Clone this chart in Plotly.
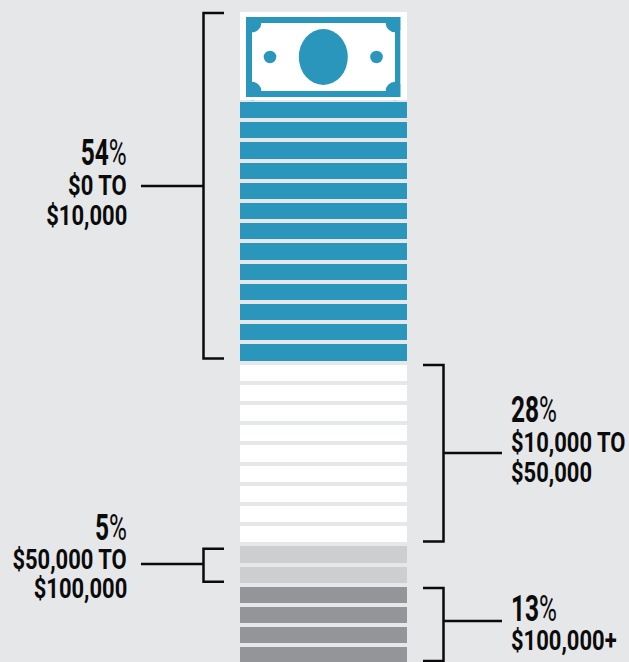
import plotly.graph_objects as go

# Income bands, from lowest to highest
shares = [54, 28, 5, 13]
band_labels = [["$0 TO", "$10,000"], ["$10,000 TO", "$50,000"], ["$50,000 TO", "$100,000"], ["$100,000+"]]
strip_counts = [13, 9, 2, 4]
strip_colors = ["#2a96bc", "#ffffff", "#cdcecf", "#939598"]

W, H = 629, 662
BG = "#e6e7e9"
INK = "#0b0b0b"
FONT = "Roboto"
PITCH = 20.2
STACK_LEFT, STACK_W = 240, 167


def py(p):
    # Convert a distance from the top of the page into strip units
    return -5.449 + p / PITCH


fig = go.Figure()

# One horizontal bar per strip in the stack
y_vals, colors = [], []
idx = 0
for count, color in zip(strip_counts, strip_colors):
    for _ in range(count):
        y_vals.append(idx)
        colors.append(color)
        idx += 1

fig.add_trace(go.Bar(
    y=y_vals, x=[STACK_W] * len(y_vals), base=STACK_LEFT, orientation="h",
    width=0.8, marker=dict(color=colors, line_width=0), showlegend=False, hoverinfo="skip",
))

shapes = []


def rect(x0, x1, p0, p1, color):
    shapes.append(dict(type="rect", x0=x0, x1=x1, y0=py(p0), y1=py(p1),
                       fillcolor=color, line_width=0, layer="above"))


def oval(cx, cy, rx, ry, color):
    shapes.append(dict(type="circle", x0=cx - rx, x1=cx + rx, y0=py(cy - ry), y1=py(cy + ry),
                       fillcolor=color, line_width=0, layer="above"))


# Banknote on top of the stack: the corner discs are trimmed by a white mat drawn last
BLUE = strip_colors[0]
rect(246, 400.5, 17, 97, BLUE)
rect(252, 395, 23, 91, "#ffffff")
for cx in (252, 395):
    for cy in (23, 91):
        oval(cx, cy, 9.3, 9.3, BLUE)
oval(323.3, 57, 24.5, 28, BLUE)
oval(270, 57, 6.3, 6.2, BLUE)
oval(376.5, 57, 6.3, 6.2, BLUE)
rect(240, 407, 12, 17, "#ffffff")
rect(240, 407, 97, 100, "#ffffff")
rect(240, 246, 12, 100, "#ffffff")
rect(400.5, 407, 12, 100, "#ffffff")


def stroke(xs, ps):
    fig.add_trace(go.Scatter(
        x=xs, y=[py(p) for p in ps], mode="lines",
        line=dict(color=INK, width=2.5), showlegend=False, hoverinfo="skip",
    ))


def label(x, p, text, size, anchor):
    fig.add_annotation(
        x=x, y=py(p), xref="x", yref="y", text=text, showarrow=False,
        xanchor=anchor, yanchor="middle", align=anchor, borderpad=0, borderwidth=0,
        font=dict(family=FONT, size=size, color=INK, weight="bold"),
    )


def pct(v):
    return f'{v}<span style="font-weight:normal">%</span>'


# Brackets and leaders: (spine, arm end, top, bottom, leader end, leader y)
brackets = [
    (203.5, 224, 13, 358.5, 141, 186),
    (443.5, 423, 365, 541.5, 502, 453),
    (203.5, 224, 548.7, 581.7, 141, 564),
    (443.5, 423, 588, 661, 502, 621),
]
for spine, arm, top, bottom, lead, lead_y in brackets:
    stroke([arm, spine, spine, arm], [top, top, bottom, bottom])
    stroke([lead, spine], [lead_y, lead_y])

# Caption line centres per band, first entry being the share
line_centres = [[153, 185, 215], [410, 442, 472], [527.5, 559, 588.5], [609, 640]]
text_x = [(126.5, "right"), (510.5, "left"), (126.5, "right"), (510.5, "left")]
for share, lines, centres, (x, anchor) in zip(shares, band_labels, line_centres, text_x):
    label(x, centres[0], pct(share), 36, anchor)
    for line, c in zip(lines, centres[1:]):
        label(x, c, line, 28, anchor)

fig.update_layout(
    width=W, height=H, margin=dict(l=0, r=0, t=0, b=0),
    paper_bgcolor=BG, plot_bgcolor=BG, shapes=shapes, bargap=0,
    xaxis=dict(range=[0, W], visible=False, fixedrange=True),
    yaxis=dict(range=[py(H), py(0)], visible=False, fixedrange=True),
)

# The captions are set in a condensed cut: squeeze each line towards its aligned edge
condense = """
document.fonts.ready.then(function () {
  document.querySelectorAll('.annotation-text').forEach(function (t) {
    var b = t.getBBox();
    var left = t.getBoundingClientRect().left > 300;
    var pivot = left ? b.x : b.x + b.width;
    var s = t.textContent.indexOf('%') >= 0 ? 0.68 : 0.785;
    t.setAttribute('transform',
      'translate(' + pivot + ',0) scale(' + s + ',1) translate(' + (-pivot) + ',0)');
  });
});
"""

fig.write_html("out.html", config={"displayModeBar": False}, post_script=condense)
